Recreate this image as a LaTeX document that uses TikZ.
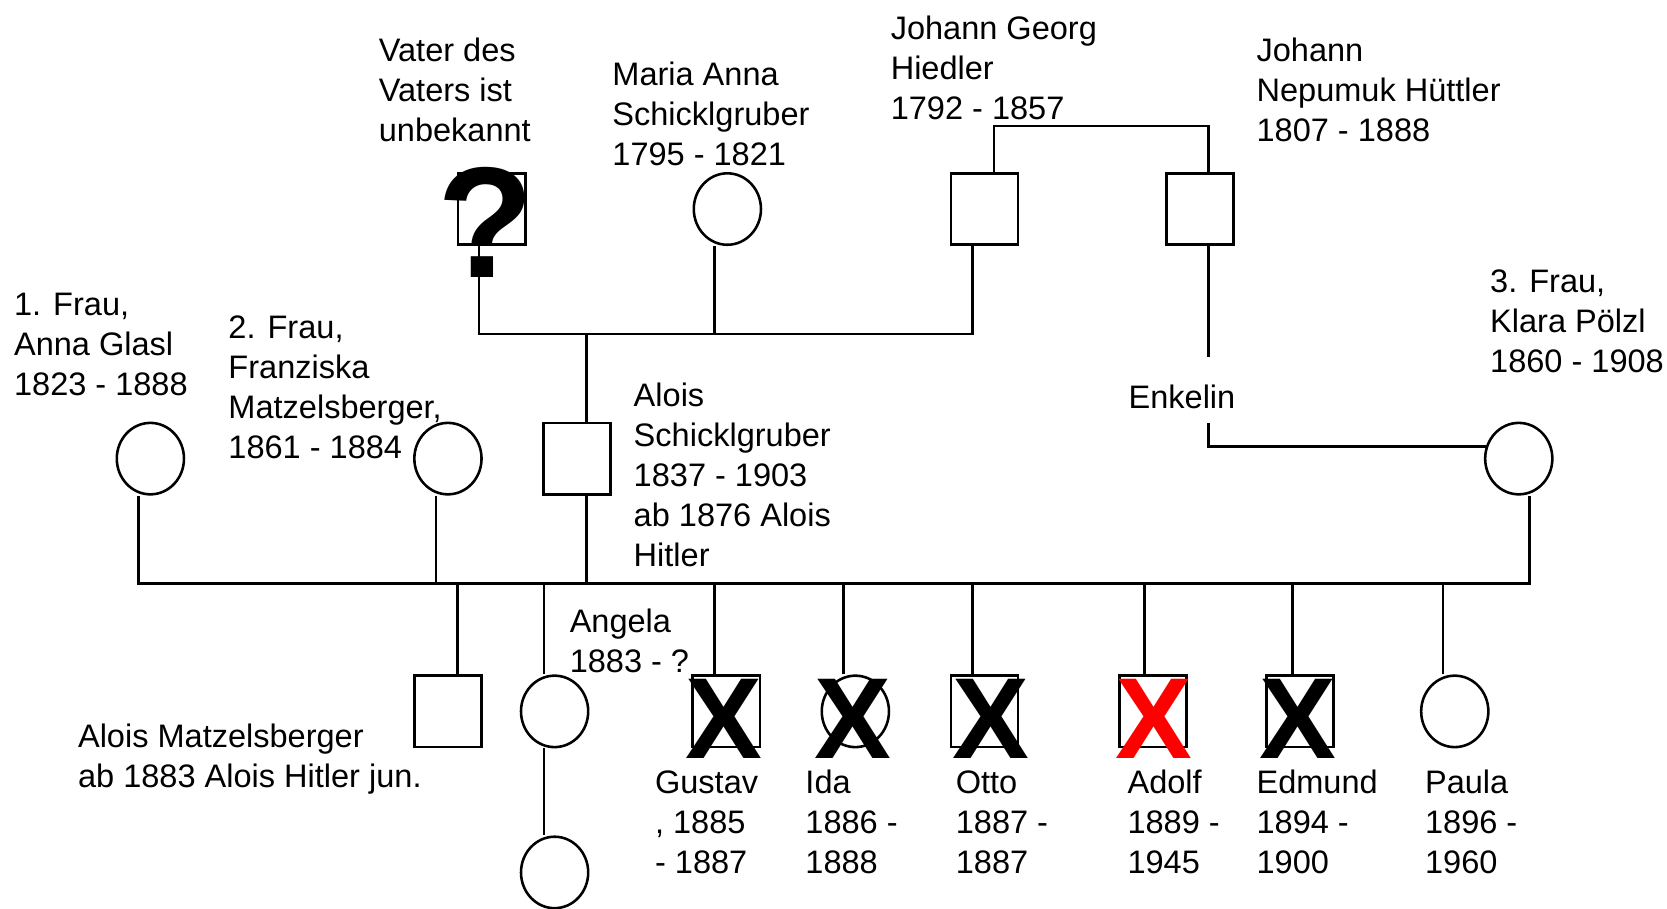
\documentclass[tikz,border=0pt]{standalone}
\usepackage{fontspec}
\setmainfont{Liberation Sans}
\usetikzlibrary{shapes.geometric,calc}
\begin{document}
\begin{tikzpicture}[x=1pt,y=-1pt,line width=2.4pt,
  male/.style={draw,rectangle,minimum width=63pt,minimum height=67pt,inner sep=0pt},
  female/.style={draw,ellipse,minimum width=63pt,minimum height=67pt,inner sep=0pt},
  lbl/.style={anchor=base west,align=left,inner sep=0pt,xshift=-3pt,font=\fontsize{30.5}{37.5}\selectfont},
  cross/.style={anchor=base,inner sep=0pt,font=\fontsize{108}{108}\selectfont\bfseries},
  qmark/.style={anchor=base,inner sep=0pt,font=\fontsize{148}{148}\selectfont\bfseries}]
\useasboundingbox (0,0) rectangle (1563,852);
% top generation
\node[male] (vu) at (461,196) {};
\node[qmark] (qm) at (455,260) {?};
\node[female] (ma) at (682,196) {};
\node[male] (jg) at (923,196) {};
\node[male] (jn) at (1125,196) {};
% parents generation
\node[female] (ag) at (141,430) {};
\node[female] (fm) at (420,430) {};
\node[male] (as) at (541,430) {};
\node[female] (kp) at (1424,430) {};
% children
\node[male] (am) at (420,667) {};
\node[female] (an) at (520,667) {};
\node[female] (an2) at (520,818) {};
\node[male] (gu) at (681,667) {};
\node[female] (id) at (802,667) {};
\node[male] (ot) at (923,667) {};
\node[male] (ad) at (1081,667) {};
\node[male] (ed) at (1219,667) {};
\node[female] (pa) at (1364,667) {};
% crosses
\node[cross] (xgu) at (679,711) {X};
\node[cross] (xid) at (800,711) {X};
\node[cross] (xot) at (929,711) {X};
\node[cross,text=red] (xad) at (1082,711) {X};
\node[cross] (xed) at (1217,711) {X};
% coordinates
\coordinate (j1) at (550,313);
\coordinate (ek1) at (1133,335);
\coordinate (ek2) at (1133,397);
\coordinate (ml) at (130,547);
\coordinate (mr) at (1434,547);
% connectors
\draw ([xshift=-12pt]vu.south) |- (j1) -| ([xshift=-11pt]jg.south);
\draw ([xshift=-12pt]ma.south) -- ([xshift=-12pt]ma.south |- j1);
\draw (j1) -- ([xshift=9pt]as.north);
\draw ([xshift=9pt]jg.north) -- ++(0,-43) -| ([xshift=8pt]jn.north);
\draw ([xshift=8pt]jn.south) -- (ek1);
\draw (ek2) |- (kp.160);
\draw ([xshift=-11pt]ag.south) -- (ml) -- (mr) -- ([xshift=10pt]kp.south);
\draw ([xshift=-11pt]fm.south) -- ([xshift=-11pt]fm.south |- ml);
\draw ([xshift=9pt]as.south) -- ([xshift=9pt]as.south |- ml);
\draw ([xshift=9pt]am.north) -- ([xshift=9pt]am.north |- ml);
\draw ([xshift=-10pt]an.north) -- ([xshift=-10pt]an.north |- ml);
\draw ([xshift=-10pt]an.south) -- ([xshift=-10pt]an2.north);
\draw ([xshift=-11pt]gu.north) -- ([xshift=-11pt]gu.north |- ml);
\draw ([xshift=-11pt]id.north) -- ([xshift=-11pt]id.north |- ml);
\draw ([xshift=-11pt]ot.north) -- ([xshift=-11pt]ot.north |- ml);
\draw ([xshift=-8pt]ad.north) -- ([xshift=-8pt]ad.north |- ml);
\draw ([xshift=-7pt]ed.north) -- ([xshift=-7pt]ed.north |- ml);
\draw ([xshift=-11pt]pa.north) -- ([xshift=-11pt]pa.north |- ml);
% labels (anchor = baseline of last line)
\node[lbl] (t1) at (357,133) {Vater des\\Vaters ist\\unbekannt};
\node[lbl] (t2) at (576,155) {Maria Anna\\Schicklgruber\\1795 - 1821};
\node[lbl] (t3) at (837,112) {Johann Georg\\Hiedler\\1792 - 1857};
\node[lbl] (t4) at (1180,133) {Johann\\Nepumuk Hüttler\\1807 - 1888};
\node[lbl] (t5) at (15,371) {1. Frau,\\Anna Glasl\\1823 - 1888};
\node[lbl] (t6) at (216,429.5) {2. Frau,\\Franziska\\Matzelsberger,\\1861 - 1884};
\node[lbl] (t7) at (596,531) {Alois\\Schicklgruber\\1837 - 1903\\ab 1876 Alois\\Hitler};
\node[lbl] (t8) at (1060,383) {Enkelin};
\node[lbl] (t9) at (1399,349) {3. Frau,\\Klara Pölzl\\1860 - 1908};
\node[lbl] (t10) at (75,738.5) {Alois Matzelsberger\\ab 1883 Alois Hitler jun.};
\node[lbl] (t11) at (536,630.5) {Angela\\1883 - ?};
\node[lbl] (t12) at (616,819) {Gustav\\, 1885\\- 1887};
\node[lbl] (t13) at (757,819) {Ida\\1886 -\\1888};
\node[lbl] (t14) at (898,819) {Otto\\1887 -\\1887};
\node[lbl] (t15) at (1059,819) {Adolf\\1889 -\\1945};
\node[lbl] (t16) at (1180,819) {Edmund\\1894 -\\1900};
\node[lbl] (t17) at (1338,819) {Paula\\1896 -\\1960};
\end{tikzpicture}
\end{document}
